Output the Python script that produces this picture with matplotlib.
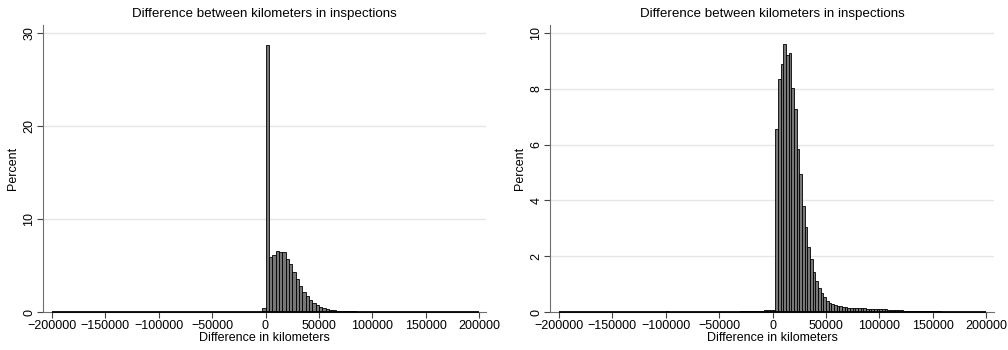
import matplotlib.pyplot as plt
import numpy as np

plt.rcParams['font.family'] = ['Liberation Sans', 'DejaVu Sans']

title = "Difference between kilometers in inspections"
xlab = "Difference in kilometers"
ylab = "Percent"
xticks = [-200000, -150000, -100000, -50000, 0, 50000, 100000, 150000, 200000]

# left: all inspections, bins of 3125 km
left_width = 3125
left_start = -3125
left_pct = [0.4, 28.7,
            5.9, 6.1, 6.6, 6.4, 6.4, 5.7, 5.2, 4.3, 3.5, 2.8, 2.2, 1.7, 1.25,
            0.95, 0.7, 0.52, 0.4, 0.3, 0.24, 0.19, 0.15, 0.12, 0.1, 0.08,
            0.07, 0.06, 0.05, 0.04, 0.035, 0.03, 0.025, 0.02, 0.02, 0.015,
            0.01, 0.01]
left_yticks = [0, 10, 20, 30]
left_ytop = 30.86

# right: zero differences dropped, bins of 2500 km
right_width = 2500
right_start = -30000
right_pct = [0.02, 0.02, 0.03, 0.03, 0.04, 0.04, 0.05, 0.05, 0.05, 0.06,
             0.06, 0.07, 0.07,
             6.55, 8.34, 8.89, 9.6, 9.21, 9.29, 8.02, 7.27, 5.83, 4.95, 3.8,
             3.04, 2.34, 1.91, 1.42, 1.11, 0.85, 0.69, 0.55, 0.41, 0.33,
             0.29, 0.25, 0.22,
             0.2, 0.18, 0.17, 0.16, 0.15, 0.15, 0.14, 0.14, 0.13, 0.13,
             0.12, 0.12, 0.11, 0.11, 0.1, 0.1, 0.09, 0.09, 0.08, 0.08,
             0.07, 0.07, 0.06, 0.06, 0.05, 0.05, 0.05, 0.05, 0.04, 0.04,
             0.03, 0.03, 0.03, 0.03, 0.02, 0.02, 0.02, 0.02, 0.01, 0.01]
right_far_x = [-100000]
right_far_pct = [0.03]
right_yticks = [0, 2, 4, 6, 8, 10]
right_ytop = 10.29

LO, HI = -200000, 200000
px = 400000 / 427.0


def fill_bins(width, start, pct, far_x=(), far_pct=()):
    edges = np.arange(LO, HI + width, width)
    vals = np.zeros(len(edges) - 1)
    i0 = int(round((start - LO) / width))
    vals[i0:i0 + len(pct)] = pct
    for x, p in zip(far_x, far_pct):
        vals[int((x - LO) // width)] = p
    return edges, vals


def draw(ax, edges, vals, yticks, ytop, xpad_right):
    ax.hist(edges[:-1], bins=edges, weights=vals, color='#777777',
            edgecolor='black', linewidth=0.6, zorder=3)
    # empty bins still show their outline along the baseline
    ax.hlines(0, edges[0], edges[-1], color='black', linewidth=1.3,
              clip_on=False, zorder=4)
    ax.set_xlim(LO - 9 * px, HI + xpad_right * px)
    ax.set_ylim(0, ytop)
    ax.set_xticks(xticks)
    ax.set_xticklabels([str(v).replace('-', '\u2212') for v in xticks])
    ax.set_yticks(yticks)
    ax.set_yticklabels([str(v) for v in yticks])
    plt.setp(ax.get_yticklabels(), rotation=90, va='center')
    for y in yticks[1:]:
        ax.axhline(y, color='#e6e6e6', linewidth=1.0, zorder=0)
    for s in ['top', 'right']:
        ax.spines[s].set_visible(False)
    ax.spines['left'].set_color('#6e6e6e')
    ax.spines['bottom'].set_color('#6e6e6e')
    ax.tick_params(axis='both', length=4, width=0.8, color='#444444',
                   labelsize=9, pad=1.5)
    ax.set_title(title, fontsize=9.6, pad=6)
    ax.set_xlabel(xlab, fontsize=9, labelpad=0)
    ax.set_ylabel(ylab, fontsize=9, labelpad=3)


fig = plt.figure(figsize=(10.08, 3.5), dpi=100)
ax1 = fig.add_axes([43 / 1008, 38 / 350, 443 / 1008, 287 / 350])
ax2 = fig.add_axes([550 / 1008, 38 / 350, 444 / 1008, 287 / 350])

e1, v1 = fill_bins(left_width, left_start, left_pct)
draw(ax1, e1, v1, left_yticks, left_ytop, 7)

e2, v2 = fill_bins(right_width, right_start, right_pct, right_far_x, right_far_pct)
draw(ax2, e2, v2, right_yticks, right_ytop, 8)

fig.savefig('out.png', dpi=100)
